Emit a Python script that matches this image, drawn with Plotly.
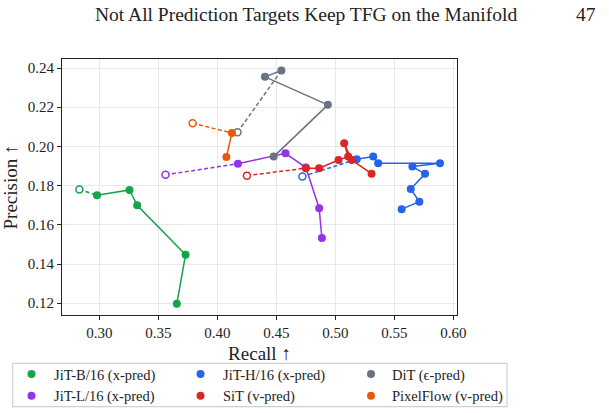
import plotly.graph_objects as go

# ---- data (Recall, Precision) ----
series_names = ["JiT-B/16 (x-pred)", "JiT-L/16 (x-pred)", "JiT-H/16 (x-pred)",
                "SiT (v-pred)", "DiT (\u03f5-pred)", "PixelFlow (v-pred)"]
series_colors = ["#16a34a", "#9333ea", "#2563eb", "#dc2626", "#6b7280", "#ea580c"]

# open (baseline) point for each series
open_recall = [0.283, 0.356, 0.472, 0.425, 0.417, 0.379]
open_precision = [0.178, 0.1855, 0.1846, 0.1851, 0.2072, 0.2118]

# filled points for each series
jitb_recall = [0.298, 0.3255, 0.332, 0.373, 0.3656]
jitb_precision = [0.1751, 0.1778, 0.170, 0.1448, 0.1198]

jitl_recall = [0.4174, 0.4577, 0.4749, 0.4862, 0.4885]
jitl_precision = [0.1912, 0.1965, 0.1892, 0.1685, 0.1533]

jith_recall = [0.518, 0.532, 0.5362, 0.5886, 0.5652, 0.5759, 0.5638, 0.5711, 0.5561]
jith_precision = [0.1935, 0.1948, 0.1914, 0.1914, 0.1897, 0.186, 0.1783, 0.1718, 0.168]

sit_recall = [0.4749, 0.4862, 0.5026, 0.5108, 0.5074, 0.5137, 0.5306]
sit_precision = [0.1889, 0.1889, 0.1931, 0.1948, 0.2016, 0.1931, 0.1861]

dit_recall = [0.4542, 0.4403, 0.4936, 0.4477]
dit_precision = [0.2387, 0.2355, 0.2212, 0.1948]

pixelflow_recall = [0.4123, 0.4076]
pixelflow_precision = [0.2069, 0.1946]

filled_recall = [jitb_recall, jitl_recall, jith_recall, sit_recall, dit_recall, pixelflow_recall]
filled_precision = [jitb_precision, jitl_precision, jith_precision, sit_precision, dit_precision, pixelflow_precision]

x_ticks = [0.30, 0.35, 0.40, 0.45, 0.50, 0.55, 0.60]
y_ticks = [0.12, 0.14, 0.16, 0.18, 0.20, 0.22, 0.24]

# legend column for each series (column-major legend, 3 columns x 2 rows)
legend_column = ["legend", "legend", "legend2", "legend2", "legend3", "legend3"]

FONT = "Liberation Serif"
W, H = 609, 413
L, R, T, B = 62, 152, 59, 98
pw, ph = W - L - R, H - T - B

fig = go.Figure()

for i, name in enumerate(series_names):
    c = series_colors[i]
    fig.add_trace(go.Scatter(
        x=[open_recall[i], filled_recall[i][0]],
        y=[open_precision[i], filled_precision[i][0]],
        mode="lines", line=dict(color=c, width=1.5, dash="4px,2.5px"),
        showlegend=False, hoverinfo="skip"))
    fig.add_trace(go.Scatter(
        x=[open_recall[i]], y=[open_precision[i]],
        mode="markers",
        marker=dict(size=7, color="white", line=dict(color=c, width=1.5)),
        showlegend=False))
    fig.add_trace(go.Scatter(
        x=filled_recall[i], y=filled_precision[i],
        mode="lines+markers",
        line=dict(color=c, width=1.5),
        marker=dict(size=8, color=c),
        showlegend=False))

for i, name in enumerate(series_names):
    fig.add_trace(go.Scatter(
        x=[None], y=[None], mode="markers", name=name,
        marker=dict(size=8, color=series_colors[i]),
        legend=legend_column[i]))

axis_common = dict(
    showgrid=True, gridcolor="#e8e8e8", gridwidth=1,
    showline=True, linecolor="#222", linewidth=1.2, mirror=True,
    ticks="outside", ticklen=4, tickcolor="#222", zeroline=False,
    tickfont=dict(family=FONT, size=15, color="#222"),
)

def legend_at(left_px, top_px, iw):
    return dict(orientation="v", xref="paper", yref="paper",
                x=(left_px - L) / pw, y=(H - B - top_px) / ph,
                xanchor="left", yanchor="top",
                bgcolor="rgba(0,0,0,0)", borderwidth=0,
                font=dict(family=FONT, size=14.5, color="#222"),
                tracegroupgap=0, itemwidth=iw)

fig.update_layout(
    width=W, height=H,
    margin=dict(l=L, r=R, t=T, b=B, autoexpand=False),
    paper_bgcolor="white", plot_bgcolor="white",
    font=dict(family=FONT, color="#222"),
    xaxis=dict(range=[0.2683, 0.603], tickvals=x_ticks,
               ticktext=[f"{v:.2f}" for v in x_ticks],
               title=dict(text="Recall \u2191", font=dict(family=FONT, size=19), standoff=6),
               **axis_common),
    yaxis=dict(range=[0.114, 0.2446], tickvals=y_ticks,
               ticktext=[f"{v:.2f}" for v in y_ticks],
               title=dict(text="Precision \u2191", font=dict(family=FONT, size=19), standoff=6),
               **axis_common),
    legend=legend_at(9, 358, 35),
    legend2=legend_at(178, 358, 35),
    legend3=legend_at(350, 358, 32),
    showlegend=True,
)

# legend frame
fig.add_shape(type="rect", xref="paper", yref="paper",
              x0=(12.7 - L) / pw, x1=(507 - L) / pw,
              y0=(H - B - 406.7) / ph, y1=(H - B - 363.3) / ph,
              line=dict(color="#d0d0d0", width=1.2), fillcolor="rgba(0,0,0,0)", layer="above")

fig.add_annotation(text="Not All Prediction Targets Keep TFG on the Manifold",
                   xref="paper", yref="paper", x=(93 - L) / pw, y=1 + (T - 14) / ph,
                   xanchor="left", yanchor="middle", showarrow=False,
                   font=dict(family=FONT, size=19.5, color="#222"))
fig.add_annotation(text="47",
                   xref="paper", yref="paper", x=(598 - L) / pw, y=1 + (T - 14) / ph,
                   xanchor="right", yanchor="middle", showarrow=False,
                   font=dict(family=FONT, size=19.5, color="#222"))

fig.write_html("out.html")
